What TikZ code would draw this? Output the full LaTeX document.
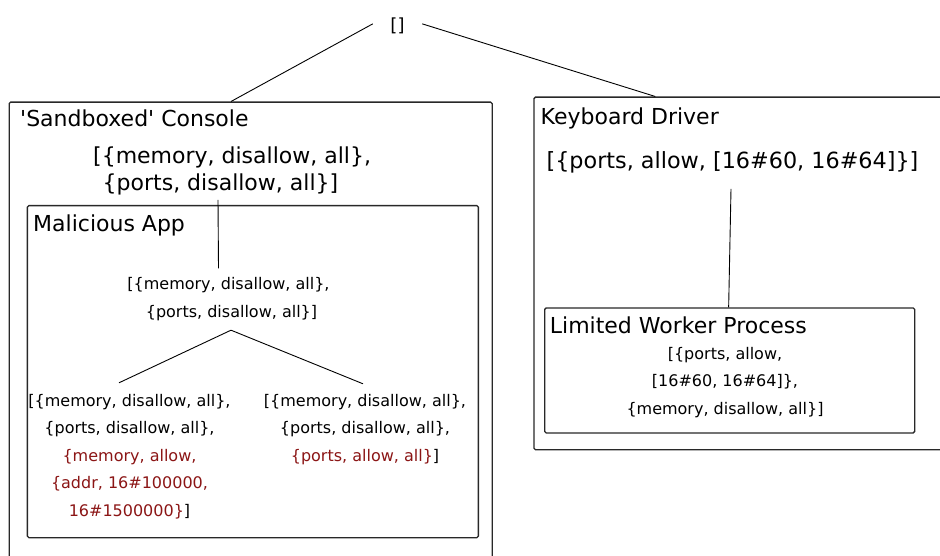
\documentclass[tikz,border=0pt]{standalone}
\usepackage{fontspec}
\setmainfont{DejaVu Sans}
\usetikzlibrary{calc}
\definecolor{permred}{RGB}{139,21,21}
\definecolor{framegray}{RGB}{40,40,40}
\tikzset{
  frame/.style={draw=framegray, line width=1.3pt, rounded corners=1.5pt, inner sep=0pt, anchor=north west},
  title/.style={font=\fontsize{22}{26}\selectfont, inner sep=0pt, anchor=base west},
  bigperm/.style={font=\fontsize{22}{26.5}\selectfont, inner sep=0pt},
  smallperm/.style={font=\fontsize{16}{27.5}\selectfont, inner sep=0pt, align=center, anchor=north},
  link/.style={draw=black, line width=0.9pt},
}
\begin{document}
\begin{tikzpicture}[x=1pt,y=-1pt]
\path[use as bounding box] (0,0) rectangle (940,556);
\clip (0,0) rectangle (940,556);

% process containers
\node[frame, minimum width=483pt, minimum height=520pt] (console) at (8.5,101.5) {};
\node[frame, minimum width=451pt, minimum height=332pt] (malicious) at (26.7,205) {};
\node[frame, minimum width=440pt, minimum height=352.5pt] (kbd) at (533.3,96.5) {};
\node[frame, minimum width=370pt, minimum height=125pt] (lwp) at (544,307.3) {};

% container titles
\node[title] (consoletitle) at (20,127) {\textquotesingle Sandboxed\textquotesingle{} Console};
\node[title] (malicioustitle) at (33,231.5) {Malicious App};
\node[title] (kbdtitle) at (540.5,125) {Keyboard Driver};
\node[title] (lwptitle) at (549.7,333.3) {Limited Worker Process};

% root of the tree
\node[font=\fontsize{18}{20}\selectfont, inner xsep=17.5pt, inner ysep=0pt, anchor=base] (root) at (397.5,31.5) {[]};

% permission sets
\node[bigperm, align=left, anchor=north west] (cperm) at (93,146.7)
  {[\{memory, disallow, all\},\\\hspace*{9.5pt}\{ports, disallow, all\}]};
\node[bigperm, font=\fontsize{22.3}{26.5}\selectfont, anchor=base] (kperm) at (732.5,168.5)
  {[\{ports, allow, [16\#60, 16\#64]\}]};
\node[smallperm] (mperm) at (228.5,277.3)
  {[\{memory, disallow, all\},\\\hspace*{6pt}\{ports, disallow, all\}]};
\node[smallperm] (leafL) at (129.5,393.8)
  {[\{memory, disallow, all\},\\
   \{ports, disallow, all\},\\
   \textcolor{permred}{\{memory, allow,}\\
   \textcolor{permred}{\{addr, 16\#100000,}\\
   \textcolor{permred}{16\#1500000\}}]};
\node[smallperm] (leafR) at (365,393.8)
  {[\{memory, disallow, all\},\\
   \{ports, disallow, all\},\\
   \textcolor{permred}{\{ports, allow, all\}}]};
\node[smallperm] (lperm) at (725,346.7)
  {[\{ports, allow,\\ {[}16\#60, 16\#64]\},\\ \{memory, disallow, all\}]};

% tree edges
\draw[link] ([yshift=2pt]root.west) -- ($(console.north west)+(222.5,0)$);
\draw[link] ([yshift=2pt]root.east) -- ($(kbd.north west)+(122,0)$);
\draw[link] ($(cperm.south west)+(125,5)$) -- ($(mperm.north)+(-10,-9)$);
\draw[link] ($(mperm.south)+(2.5,9.5)$) -- ($(leafL.north)+(-10.5,-11)$);
\draw[link] ($(mperm.south)+(2.5,9.5)$) -- ($(leafR.north)+(-2,-10)$);
\draw[link] ($(kperm.south)+(-1.5,15.5)$) -- ($(lwp.north)+(-1,0)$);
\end{tikzpicture}
\end{document}
